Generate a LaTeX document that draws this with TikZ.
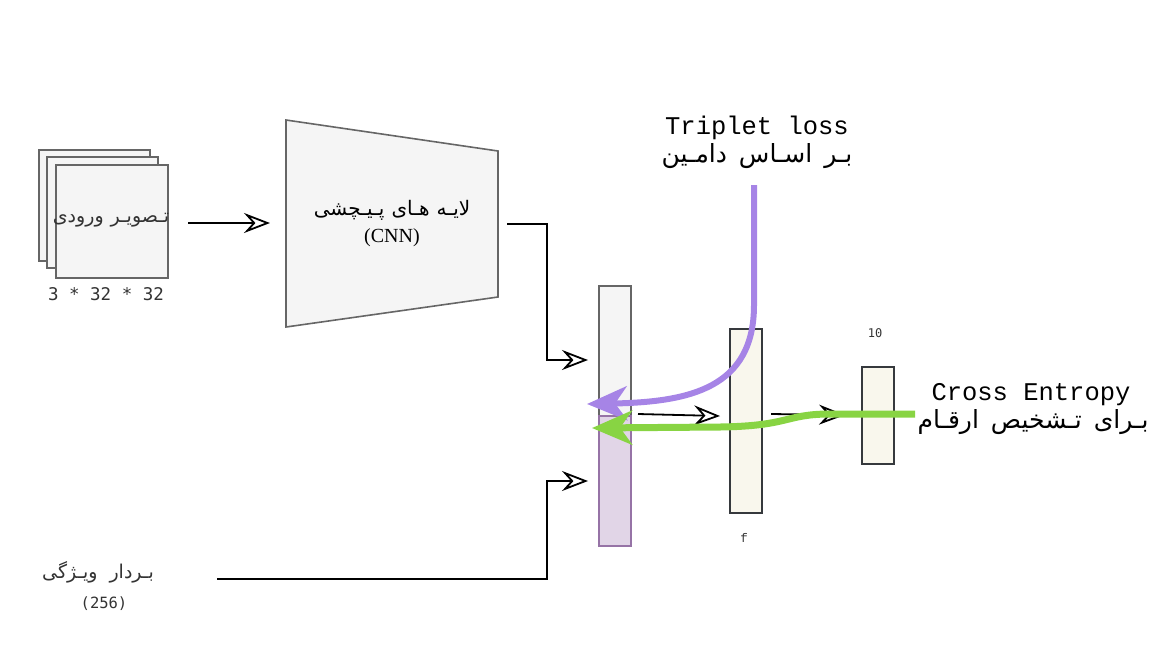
\documentclass[tikz,border=0pt]{standalone}
\usepackage{fontspec}
\setmainfont{Liberation Serif}
\newfontfamily\arf[Script=Arabic]{DejaVu Sans}
\newfontfamily\monof{Liberation Mono}
\newfontfamily\smonof{DejaVu Sans Mono}
\TeXXeTstate=1
\usetikzlibrary{arrows.meta}
\definecolor{boxfill}{HTML}{F5F5F5}
\definecolor{boxline}{HTML}{666666}
\definecolor{purfill}{HTML}{E1D5E7}
\definecolor{purline}{HTML}{9673A6}
\definecolor{creamfill}{HTML}{F9F7ED}
\definecolor{darkline}{HTML}{36393D}
\definecolor{tripcol}{HTML}{A684E6}
\definecolor{cecol}{HTML}{88D443}
\definecolor{txtgrey}{HTML}{333333}
\newcommand{\wsp}{\hspace{7pt}}
\newcommand{\wspb}{\hspace{12pt}}
\tikzset{
  greybox/.style={draw=boxline, fill=boxfill, line width=1.6pt},
  colbox/.style={draw=darkline, fill=creamfill, line width=1.6pt, minimum width=32pt, inner sep=0pt, anchor=north west},
  conn/.style={line width=1.8pt, -{Stealth[open, length=26pt, width=20pt, inset=9pt]}},
  bigarrow/.style={line width=6pt, line cap=butt, -{Stealth[length=40pt, width=34pt, inset=12pt]}},
  txt/.style={inner sep=0pt, anchor=center},
}
\begin{document}
\begin{tikzpicture}[x=1pt,y=-1pt]
\useasboundingbox (0,0) rectangle (1174,649);
% input stack
\draw[greybox] (39,150) rectangle (150,261);
\draw[greybox] (47,157) rectangle (158,268);
\node[greybox, inner sep=0pt, minimum width=112pt, minimum height=113pt, anchor=north west] (img) at (55,164) {};
\node[txt, text=txtgrey] (imgtxt) at (111,220) {\arf\fontsize{19}{22}\selectfont\beginR تـصویـر\wsp ورودی\endR};
\node[txt, text=txtgrey] (imgdim) at (106,294) {\smonof\fontsize{17.5}{20}\selectfont 3 * 32 * 32};
% CNN trapezoid
\coordinate (t1) at (286,120);
\coordinate (t2) at (498,151);
\coordinate (t3) at (498,297);
\coordinate (t4) at (286,327);
\draw[greybox] (t1) -- (t2) -- (t3) -- (t4) -- cycle;
\node[txt] (cnntxt) at (392,210) {\arf\fontsize{20}{24}\selectfont\beginR لایـه\wsp هـای\wsp پـیـچشی\endR};
\node[txt] (cnnname) at (392,238) {\fontsize{20}{24}\selectfont (CNN)};
\coordinate (imgout) at (188,223);
\coordinate (cnnin) at (270,223);
\draw[conn] (imgout) -- (cnnin);
% column 1
\node[draw=boxline, fill=boxfill, line width=1.6pt, minimum width=32pt, minimum height=130pt, inner sep=0pt, anchor=north west] (c1a) at (598,285) {};
\node[draw=purline, fill=purfill, line width=1.6pt, minimum width=32pt, minimum height=130pt, inner sep=0pt, anchor=north west] (c1b) at (598,415) {};
% column 2,3
\node[colbox, minimum height=184pt] (c2) at (729,328) {};
\node[colbox, minimum height=97pt] (c3) at (861,366) {};
\node[txt, text=txtgrey] (flab) at (744,538) {\monof\fontsize{12.5}{14}\selectfont f};
\node[txt, text=txtgrey] (tenlab) at (875,333) {\smonof\fontsize{12}{14}\selectfont 10};
% connectors into column 1
\coordinate (cnnout) at (507,224);
\coordinate (in1) at (588,360);
\draw[conn] (cnnout) -- (547,224) |- (in1);
\node[txt, text=txtgrey] (feat) at (98,572) {\arf\fontsize{19}{22}\selectfont\beginR بـردار\wspb ویـژگی\endR};
\node[txt, text=txtgrey] (featdim) at (104,604) {\smonof\fontsize{15.5}{18}\selectfont (256)};
\coordinate (featout) at (217,579);
\coordinate (in2) at (588,481);
\draw[conn] (featout) -- (547,579) |- (in2);
% column arrows
\coordinate (c1out) at (638,414);
\coordinate (c2in) at (720,416);
\draw[conn] (c1out) -- (c2in);
\coordinate (c2out) at (771,414);
\coordinate (c3in) at (845,415);
\draw[conn] (c2out) -- (c3in);
% triplet loss
\node[txt] (trip) at (757,128) {\monof\fontsize{25.5}{28}\selectfont Triplet loss};
\node[txt] (tripfa) at (757,156) {\arf\fontsize{25}{28}\selectfont\beginR بـر\wspb اسـاس\wspb دامـین\endR};
\coordinate (tripstart) at (754,185);
\coordinate (tripend) at (587,404);
\draw[bigarrow, draw=tripcol] (tripstart) -- (754,305) .. controls (754,388) and (690,402) .. (tripend);
% cross entropy
\node[txt] (ce) at (1031,395) {\monof\fontsize{25.5}{28}\selectfont Cross Entropy};
\node[txt] (cefa) at (1033,422) {\arf\fontsize{25}{28}\selectfont\beginR بـرای\wspb تـشخیص\wspb ارقـام\endR};
\coordinate (cestart) at (915,414);
\coordinate (ceend) at (592,428);
\draw[bigarrow, line width=7pt, draw=cecol] (cestart) -- (830,414) .. controls (785,414) and (790,426) .. (720,427) -- (ceend);
\end{tikzpicture}
\end{document}
